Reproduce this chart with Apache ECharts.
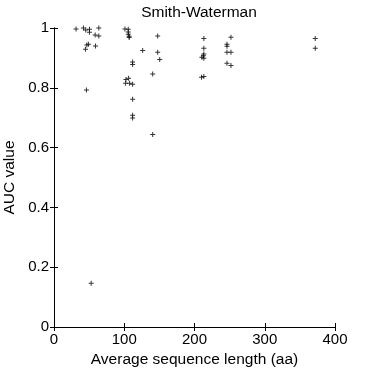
<!DOCTYPE html>
<html>
<head>
<meta charset="utf-8">
<script src="https://cdn.jsdelivr.net/npm/echarts@6/dist/echarts.min.js"></script>
<style>html,body{margin:0;padding:0;background:#fff;}#c{width:370px;height:370px;}</style>
</head>
<body>
<div id="c"></div>
<script>
var titleText = "Smith-Waterman";
var xName = "Average sequence length (aa)";
var yName = "AUC value";
var lengths = [31.4,41.9,45.2,50.5,50.5,63.8,58.6,63.8,49.0,46.7,44.8,59.1,46.2,52.9,
  101.0,105.7,105.7,105.7,107.0,107.0,126.2,147.6,147.6,150.5,111.9,111.9,140.5,102.4,106.2,101.9,107.6,111.9,111.9,111.9,111.9,140.5,
  213.3,213.3,213.3,212.7,210.5,213.3,210.0,213.3,251.9,246.2,246.2,246.2,251.9,246.2,251.9,371.9,371.9];
var aucs = [0.997,1.0,0.993,0.996,0.986,1.0,0.977,0.973,0.946,0.943,0.929,0.940,0.793,0.146,
  0.997,0.996,0.987,0.979,0.972,0.968,0.925,0.973,0.919,0.895,0.886,0.878,0.846,0.828,0.832,0.815,0.815,0.812,0.762,0.708,0.699,0.644,
  0.965,0.932,0.913,0.907,0.902,0.899,0.835,0.838,0.969,0.946,0.939,0.919,0.919,0.882,0.875,0.965,0.932];
var points = lengths.map(function(x,i){return [x, aucs[i]];});
var font = "Liberation Sans, Arial, sans-serif";
var chart = echarts.init(document.getElementById('c'), null, {renderer:'canvas'});
var axBase = {
  axisLine:{show:true, lineStyle:{color:'#000', width:1}},
  axisTick:{show:true, inside:true, length:4, lineStyle:{color:'#000'}},
  splitLine:{show:false},
  axisLabel:{color:'#000', fontSize:15, fontFamily:font}
};
chart.setOption({
  animation:false,
  backgroundColor:'#fff',
  title:{text:titleText, left:194, textAlign:'center', top:0,
    textStyle:{fontSize:15.5, fontWeight:'normal', color:'#000', fontFamily:font}},
  grid:{left:54, right:35, top:28, bottom:43, containLabel:false, outerBoundsMode:'none'},
  xAxis:[
    Object.assign({}, axBase, {type:'value', min:0, max:400, interval:100, position:'bottom',
      name:xName, nameLocation:'middle', nameGap:21,
      nameTextStyle:{fontSize:15.5, color:'#000', fontFamily:font},
      axisLabel:{color:'#000', fontSize:15, fontFamily:font, margin:5}}),
    Object.assign({}, axBase, {type:'value', min:0, max:400, interval:100, position:'top',
      axisLabel:{show:false}})
  ],
  yAxis:[
    Object.assign({}, axBase, {type:'value', min:0, max:1, interval:0.2, position:'left',
      name:yName, nameLocation:'middle', nameGap:31,
      nameTextStyle:{fontSize:15.5, color:'#000', fontFamily:font},
      axisLabel:{color:'#000', fontSize:15, fontFamily:font, margin:5}}),
    Object.assign({}, axBase, {type:'value', min:0, max:1, interval:0.2, position:'right',
      axisLabel:{show:false}})
  ],
  series:[{
    type:'scatter', data:points, xAxisIndex:0, yAxisIndex:0,
    symbol:'path://M2,0h1v2h2v1h-2v2h-1v-2h-2v-1h2z', symbolSize:5,
    itemStyle:{color:'#000'}
  }]
});
</script>
</body>
</html>
